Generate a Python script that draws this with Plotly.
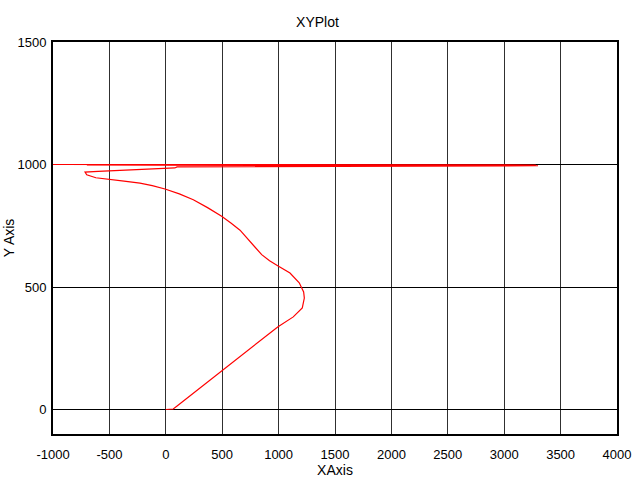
import plotly.graph_objects as go

# Trajectory points
x_vals = [0, 40, 66, 100, 495, 992, 1130, 1210, 1228, 1222, 1183, 1101, 992, 920, 850, 800, 760, 731,
          690, 658, 580, 495, 370, 244, 120, -7, -120, -229, -370, -495, -620, -701, -716,
          -600, -300, 0, 80, 100, 3120, 3300, -700, 3280, -1000]
y_vals = [0, 0, 2, 14, 156, 337, 378, 415, 455, 480, 517, 557, 587, 607, 632, 658, 678, 693,
          715, 732, 760, 789, 824, 856, 880, 900, 914, 924, 932, 938, 946, 958, 969,
          972, 978, 983, 986, 990, 992, 995, 997, 998, 1000]

x_ticks = [-1000, -500, 0, 500, 1000, 1500, 2000, 2500, 3000, 3500, 4000]
y_ticks = [0, 500, 1000, 1500]

fig = go.Figure()
fig.add_trace(go.Scatter(x=x_vals, y=y_vals, mode="lines",
                         line=dict(color="#ff0000", width=1.2), showlegend=False))

fam = "Liberation Sans, Arial, sans-serif"
font = dict(family=fam, size=12, color="black")
tfont = dict(family=fam, size=14, color="black")

fig.update_layout(
    width=635, height=479,
    margin=dict(l=53, r=18, t=42, b=45, autoexpand=False),
    paper_bgcolor="white", plot_bgcolor="white",
    font=font,
    title=dict(text="XYPlot", x=0.5, xanchor="center", y=0.954, yanchor="middle",
               font=tfont),
    xaxis=dict(range=[-1000, 4000], tickvals=x_ticks, ticktext=[str(v) for v in x_ticks],
               showgrid=True, gridcolor="#303030", gridwidth=1,
               showline=True, linecolor="black", linewidth=2, mirror=True,
               zeroline=False, ticks="", ticklabelstandoff=7, automargin=False,
               tickfont=dict(family=fam, size=13, color="black"),
               title=dict(text="XAxis", standoff=2, font=tfont)),
    yaxis=dict(range=[-100, 1500], tickvals=y_ticks, ticktext=[str(v) for v in y_ticks],
               showgrid=True, gridcolor="black", gridwidth=1,
               showline=True, linecolor="black", linewidth=2, mirror=True,
               zeroline=False, ticks="", ticklabelstandoff=2, automargin=False,
               tickfont=dict(family=fam, size=13, color="black"),
               title=dict(text="Y Axis", standoff=0, font=tfont)),
)

fig.write_html("out.html", config={"displayModeBar": False},
               post_script="document.body.style.margin='0';document.body.style.overflow='hidden';")
